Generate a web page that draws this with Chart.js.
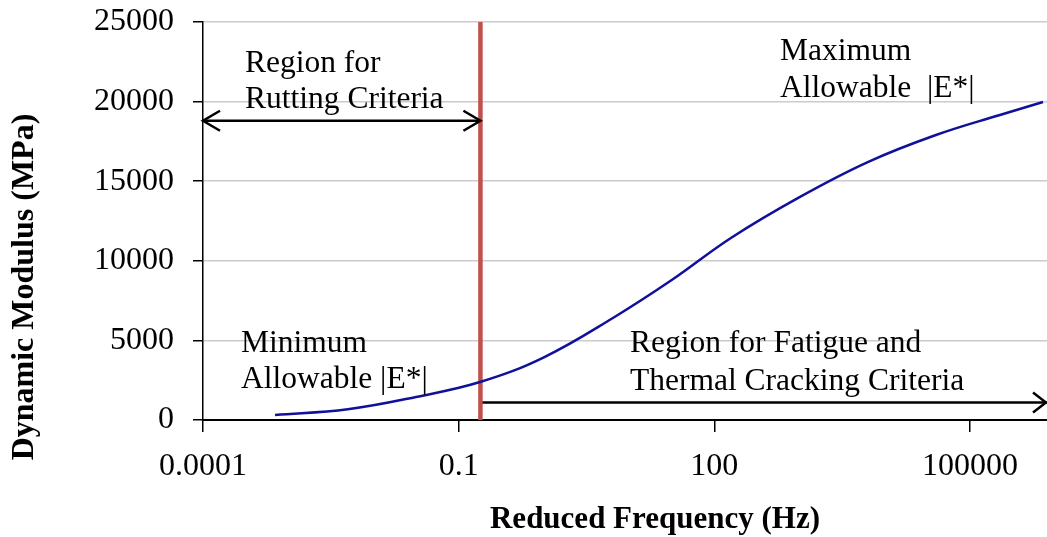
<!DOCTYPE html>
<html>
<head>
<meta charset="utf-8">
<script src="https://cdn.jsdelivr.net/npm/chart.js@4.4.0/dist/chart.umd.min.js"></script>
<style>
  html, body { margin: 0; padding: 0; background: #fff; }
  #wrap { width: 1047px; height: 537px; position: relative; }
</style>
</head>
<body>
<div id="wrap"><canvas id="chart"></canvas></div>
<script>
// Reduced frequency (Hz) vs dynamic modulus (MPa)
const frequencies = [7.0e-4, 5.0e-3, 0.0316, 0.182, 1, 6.46, 31.6, 158, 1000, 6310, 39800, 224000, 718000];
const modulus = [320, 680, 1450, 2400, 3940, 6410, 8790, 11450, 14000, 16200, 17900, 19160, 19975];

const xTicks = [0.0001, 0.1, 100, 100000];
const xTickLabels = ['0.0001', '0.1', '100', '100000'];
const yTicks = [0, 5000, 10000, 15000, 20000, 25000];

const boundaryFreq = 0.18;      // red divider between regions
const rutArrowLevel = 18800;    // double arrow, rutting region
const fatigueArrowLevel = 1100; // arrow, fatigue / thermal region
const xMin = 0.0001;
const xMax = 8e5;

const annotations = [
    { lines: ['Region for', 'Rutting Criteria'], x: 245, y: 72, gap: 36 },
    { lines: ['Minimum', 'Allowable |E*|'], x: 241, y: 352, gap: 36 },
    { lines: ['Maximum', 'Allowable  |E*|'], x: 780, y: 60, gap: 37 },
    { lines: ['Region for Fatigue and', 'Thermal Cracking Criteria'], x: 630, y: 352, gap: 38 }
];

const serif = "'Liberation Serif', 'Times New Roman', serif";

function drawHead(ctx, x, y, dir, len, half) {
    ctx.beginPath();
    ctx.moveTo(x - dir * len, y - half);
    ctx.lineTo(x, y);
    ctx.lineTo(x - dir * len, y + half);
    ctx.stroke();
}

const extras = {
    id: 'extras',
    afterDatasetsDraw(chart) {
        const ctx = chart.ctx;
        ctx.save();
        // arrow heads at the ends of the arrow datasets
        ctx.strokeStyle = '#000';
        ctx.lineWidth = 2.5;
        const rut = chart.getDatasetMeta(2).data;
        drawHead(ctx, rut[0].x, rut[0].y, -1, 17, 10);
        drawHead(ctx, rut[1].x, rut[1].y, 1, 17, 10);
        const fat = chart.getDatasetMeta(3).data;
        drawHead(ctx, fat[1].x - 1, fat[1].y, 1, 13, 10);

        // text annotations
        ctx.fillStyle = '#000';
        ctx.font = '31.5px ' + serif;
        ctx.textAlign = 'left';
        ctx.textBaseline = 'alphabetic';
        annotations.forEach(a => {
            a.lines.forEach((t, i) => ctx.fillText(t, a.x, a.y + i * a.gap));
        });

        // axis titles
        ctx.font = 'bold 31px ' + serif;
        ctx.textAlign = 'center';
        ctx.fillText('Reduced Frequency (Hz)', 655, 528);
        ctx.translate(33, 287);
        ctx.rotate(-Math.PI / 2);
        ctx.font = 'bold 32px ' + serif;
        ctx.fillText('Dynamic Modulus (MPa)', 0, 0);
        ctx.restore();
    }
};

const ctx = document.getElementById('chart').getContext('2d');
new Chart(ctx, {
    type: 'line',
    data: {
        datasets: [
            {
                label: '|E*|',
                data: frequencies.map((f, i) => ({ x: f, y: modulus[i] })),
                borderColor: '#10109a',
                borderWidth: 2.5,
                pointRadius: 0,
                tension: 0.4,
                fill: false
            },
            {
                label: 'boundary',
                data: [{ x: boundaryFreq, y: 0 }, { x: boundaryFreq, y: 25000 }],
                borderColor: '#c0504d',
                borderWidth: 4.5,
                pointRadius: 0
            },
            {
                label: 'rutting',
                data: [{ x: xMin, y: rutArrowLevel }, { x: boundaryFreq, y: rutArrowLevel }],
                borderColor: '#000',
                borderWidth: 2.5,
                pointRadius: 0
            },
            {
                label: 'fatigue',
                data: [{ x: boundaryFreq, y: fatigueArrowLevel }, { x: xMax, y: fatigueArrowLevel }],
                borderColor: '#000',
                borderWidth: 2.5,
                pointRadius: 0
            }
        ]
    },
    options: {
        responsive: true,
        maintainAspectRatio: false,
        animation: false,
        layout: { padding: { top: 22, right: 0, left: 0, bottom: 0 } },
        plugins: {
            legend: { display: false },
            tooltip: { enabled: false }
        },
        scales: {
            x: {
                type: 'logarithmic',
                min: xMin,
                max: xMax,
                afterBuildTicks: scale => {
                    scale.ticks = xTicks.map(v => ({ value: v }));
                },
                afterFit: scale => {
                    scale.height = 117;
                    scale.paddingLeft = 0;
                    scale.paddingRight = 0;
                },
                border: { color: '#000', width: 2 },
                grid: {
                    drawOnChartArea: false,
                    color: '#000',
                    tickLength: 12,
                    lineWidth: 1.5
                },
                ticks: {
                    autoSkip: false,
                    maxRotation: 0,
                    padding: 15,
                    color: '#000',
                    font: { family: serif, size: 32 },
                    callback: (v) => {
                        const i = xTicks.indexOf(v);
                        return i >= 0 ? xTickLabels[i] : '';
                    }
                }
            },
            y: {
                min: 0,
                max: 25000,
                afterBuildTicks: scale => {
                    scale.ticks = yTicks.map(v => ({ value: v }));
                },
                afterFit: scale => {
                    scale.width = 203;
                    scale.paddingTop = 0;
                    scale.paddingBottom = 0;
                },
                border: { color: '#000', width: 1.5 },
                grid: {
                    color: '#cccccc',
                    tickColor: '#000',
                    lineWidth: 1.5,
                    tickLength: 10
                },
                ticks: {
                    padding: 19,
                    color: '#000',
                    font: { family: serif, size: 32 },
                    callback: v => String(v)
                }
            }
        }
    },
    plugins: [extras]
});
</script>
</body>
</html>
